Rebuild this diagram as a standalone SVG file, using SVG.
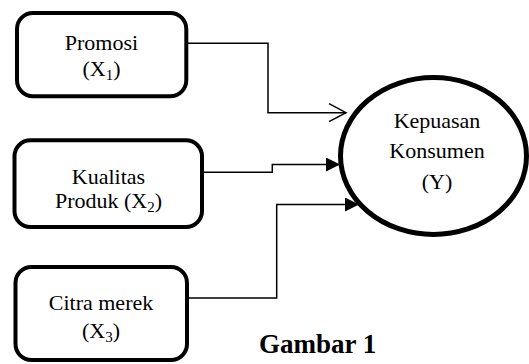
<svg xmlns="http://www.w3.org/2000/svg" width="529" height="364" viewBox="0 0 529 364">
<style>
.box{fill:#fff;stroke:#000;stroke-width:4}
.ell{fill:#fff;stroke:#000;stroke-width:5}
.t{font-family:"Liberation Serif","Times New Roman",serif;font-size:22px;fill:#000;text-anchor:middle}
.sub{font-size:15px}
.title{font-family:"Liberation Serif","Times New Roman",serif;font-size:27px;font-weight:bold;fill:#000}
.ln{fill:none;stroke:#000;stroke-width:1.5}
</style>
<defs>
<marker id="open" markerUnits="userSpaceOnUse" markerWidth="22" markerHeight="22" refX="18" refY="10" orient="auto">
<path d="M1,1 L18,10 L1,19" fill="none" stroke="#000" stroke-width="1.5"/>
</marker>
<marker id="fill" markerUnits="userSpaceOnUse" markerWidth="16" markerHeight="16" refX="14" refY="7" orient="auto">
<path d="M0,0 L14,7 L0,14 Z" fill="#000"/>
</marker>
</defs>
<g id="connectors">
<path class="ln" d="M188,43.3 H268 V112.7 H346" marker-end="url(#open)"/>
<path class="ln" d="M204,172.3 H272.3 V164.5 H340" marker-end="url(#fill)"/>
<path class="ln" d="M189,298 H276.7 V204.5 H359" marker-end="url(#fill)"/>
</g>
<g id="promosi">
<rect class="box" x="17" y="13" width="169.3" height="83.3" rx="16"/>
<text class="t" x="101.5" y="49.5">Promosi</text>
<text class="t" x="101.5" y="76">(X<tspan class="sub" dy="4">1</tspan><tspan dy="-4">)</tspan></text>
</g>
<g id="kualitas">
<rect class="box" x="14.5" y="140.3" width="187.5" height="86.7" rx="16"/>
<text class="t" x="108.5" y="184">Kualitas</text>
<text class="t" x="108.5" y="207.5">Produk (X<tspan class="sub" dy="4">2</tspan><tspan dy="-4">)</tspan></text>
</g>
<g id="citra">
<rect class="box" x="15.5" y="267" width="171.5" height="93" rx="16"/>
<text class="t" x="101" y="310">Citra merek</text>
<text class="t" x="101" y="338">(X<tspan class="sub" dy="4">3</tspan><tspan dy="-4">)</tspan></text>
</g>
<g id="kepuasan">
<ellipse class="ell" cx="433.5" cy="156" rx="93" ry="78.5"/>
<text class="t" x="437" y="128.3">Kepuasan</text>
<text class="t" x="437" y="158.3">Konsumen</text>
<text class="t" x="437" y="188.5">(Y)</text>
</g>
<text class="title" x="259" y="353">Gambar 1</text>
</svg>
